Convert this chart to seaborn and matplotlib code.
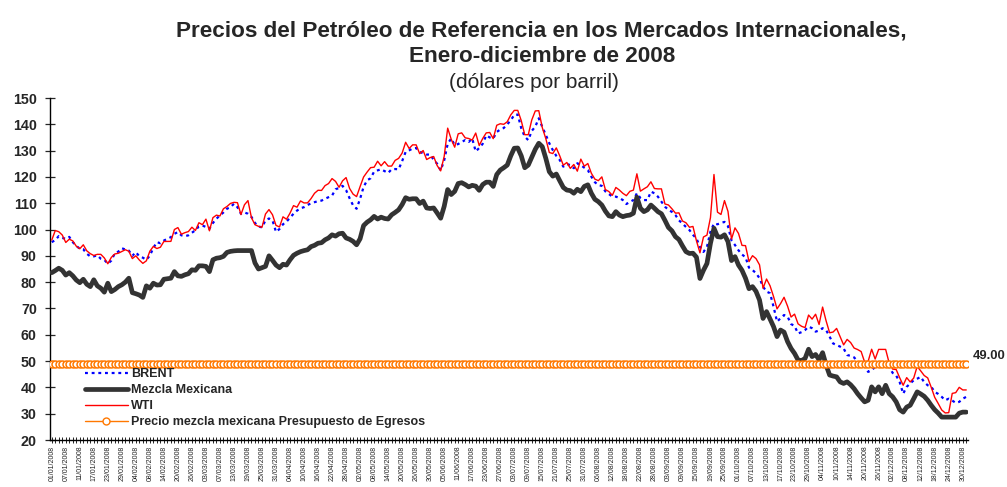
import matplotlib
matplotlib.use("Agg")
import matplotlib.pyplot as plt
import matplotlib.lines as mlines
import numpy as np
import pandas as pd
import seaborn as sns

# Precios diarios 2008 (dias habiles), dolares por barril
wti = [
    95.98, 99.62, 99.18, 97.91, 95.09, 96.33, 95.67, 93.67, 92.69, 94.20, 91.90, 90.84,
    90.13, 90.57, 90.57, 89.21, 86.99, 89.41, 90.71, 90.99, 91.64, 92.33, 91.75,
    88.96, 90.02, 88.41, 87.14, 88.11, 91.77, 93.59, 92.78, 93.27, 95.46, 95.50,
    95.50, 100.01, 100.74, 98.23, 98.81, 99.23, 100.88, 99.64, 102.59, 101.84,
    103.95, 99.52, 104.52, 105.47, 105.15, 107.90, 108.75, 109.92, 110.33, 110.21,
    105.68, 109.42, 111.00, 104.48, 101.84, 101.22, 100.86, 105.90, 107.58, 105.62, 101.58,
    100.98, 104.83, 103.92, 106.23, 109.09, 108.50, 110.87, 110.11, 110.14, 111.76, 113.79,
    114.93, 114.86, 116.69, 117.48, 119.37, 118.30, 116.06, 118.52, 119.75, 115.63, 113.46,
    112.52, 116.32, 119.97, 121.84, 123.53, 123.69, 125.96, 124.23, 125.80, 124.12, 124.12,
    126.29, 127.05, 129.07, 133.17, 130.81, 132.19, 132.19, 128.85, 130.03, 126.62, 127.35,
    127.76, 124.31, 122.30, 127.79, 138.54, 134.35, 131.31, 136.38, 136.74, 134.86, 134.61,
    134.01, 136.68, 131.93, 134.62, 136.74, 136.89, 134.55, 139.64, 140.21, 140.00,
    140.97, 143.57, 145.29, 145.29, 141.37, 136.04, 136.05, 141.65, 145.08, 145.18, 138.74,
    134.60, 129.29, 128.88, 131.04, 127.95, 124.44, 125.49, 123.26, 124.73, 122.19, 126.77, 124.08,
    125.10, 121.41, 119.17, 118.58, 120.02, 115.20, 114.45, 113.01, 116.00, 115.01, 113.77,
    112.87, 114.53, 114.98, 121.18, 114.59, 115.46, 116.27, 118.15, 115.59, 115.46,
    115.46, 109.71, 109.35, 107.89, 106.23, 106.34, 103.26, 102.58, 100.87, 101.18, 95.71,
    91.15, 97.16, 97.88, 104.55, 120.92, 106.61, 105.73, 111.00, 106.89, 96.37, 100.64,
    98.53, 93.97, 93.88, 87.81, 90.06, 88.95, 86.59, 77.70, 81.19, 78.63, 74.54, 69.85,
    71.85, 74.25, 70.89, 66.75, 67.84, 64.15, 63.22, 62.73, 67.50, 65.96, 67.81,
    63.91, 70.53, 65.30, 60.77, 61.04, 62.41, 59.33, 56.16, 58.24, 57.04, 54.95, 54.39,
    53.62, 49.62, 49.93, 54.50, 50.77, 54.44, 54.44, 54.43,
    49.28, 46.96, 46.79, 43.67, 40.81, 43.71, 42.07, 43.52, 47.98, 46.28, 44.51, 43.60,
    40.06, 36.22, 33.87, 31.41, 30.28, 30.40, 37.71, 38.00, 40.02, 39.03, 39.03,
]

brent = [
    95.2, 96.0, 97.5, 96.8, 96.5, 97.2, 95.2, 93.8, 92.7, 92.5, 90.8, 89.8,
    89.8, 90.2, 88.9, 88.5, 87.0, 88.2, 91.0, 91.6, 92.9, 92.4, 92.0,
    90.0, 91.4, 89.8, 89.3, 88.5, 90.1, 93.0, 95.2, 94.8, 95.8, 96.5,
    97.1, 98.4, 99.0, 97.8, 97.5, 97.8, 98.8, 99.7, 101.2, 101.5,
    101.0, 100.3, 102.5, 104.1, 105.4, 106.5, 107.9, 108.5, 109.8, 108.5,
    106.0, 106.5, 106.0, 104.8, 102.5, 101.2, 100.8, 103.5, 104.2, 103.5, 99.1,
    100.2, 102.0, 103.0, 104.5, 106.0, 107.2, 108.1, 108.5, 109.3, 110.0, 110.4,
    110.8, 111.0, 111.7, 112.3, 112.9, 115.3, 115.8, 116.6, 115.0, 111.9, 109.2,
    107.9, 111.7, 116.2, 118.7, 119.5, 122.0, 122.5, 122.9, 122.2, 121.5, 122.9,
    123.0, 122.9, 126.0, 129.5, 130.1, 130.8, 131.0, 129.5, 129.0, 128.5, 128.5,
    126.5, 125.0, 122.5, 126.3, 132.6, 134.6, 132.1, 132.5, 133.3, 134.0, 133.3,
    134.6, 129.7, 131.0, 132.6, 135.8, 135.0, 134.6, 137.1, 138.0, 138.6,
    140.0, 141.5, 143.6, 143.7, 138.5, 135.3, 134.0, 137.5, 139.1, 142.3, 139.0,
    136.0, 132.8, 130.2, 128.0, 126.4, 123.9, 124.9, 124.5, 123.3, 125.2, 124.5, 123.5,
    122.6, 120.1, 118.0, 116.9, 116.6, 114.5, 113.5, 112.5, 112.5, 112.0, 111.2,
    109.7, 110.5, 111.2, 113.8, 112.0, 111.2, 111.2, 114.4, 113.8, 112.5,
    110.6, 108.7, 107.5, 106.7, 105.5, 103.5, 102.3, 101.0, 99.8, 98.0, 96.6,
    93.4, 91.5, 93.4, 99.2, 102.3, 102.0, 102.5, 102.9, 101.3, 95.9, 94.1,
    92.1, 90.5, 89.5, 85.5, 84.6, 83.4, 81.5, 78.3, 76.4, 75.8, 70.7, 65.0,
    66.3, 67.5, 66.9, 64.1, 63.3, 60.5, 61.0, 61.8, 63.1, 62.5, 61.2,
    61.6, 62.5, 61.8, 59.3, 56.7, 56.1, 55.5, 54.8, 52.3, 52.0, 51.4, 49.7,
    48.8, 47.8, 45.9, 46.5, 47.8, 49.7, 49.7, 49.0,
    47.8, 45.5, 44.5, 42.0, 37.6, 40.2, 41.5, 42.7, 43.3, 44.0, 42.0, 40.8,
    40.2, 38.3, 37.5, 36.4, 35.1, 35.7, 35.0, 34.1, 34.5, 35.7, 36.4,
]

mezcla = [
    83.6, 84.4, 85.3, 84.5, 82.7, 83.6, 82.4, 80.8, 79.8, 81.1, 79.2, 78.3,
    80.9, 78.6, 77.7, 76.2, 79.6, 76.4, 77.2, 78.3, 79.0, 80.0, 81.5,
    76.0, 75.6, 75.1, 74.2, 78.6, 77.7, 79.6, 78.9, 79.0, 81.1, 81.3,
    81.5, 84.0, 82.4, 82.2, 82.8, 83.2, 84.7, 84.5, 86.2, 86.2,
    86.0, 84.0, 88.5, 89.1, 89.3, 89.8, 91.3, 91.7, 91.9, 92.0,
    92.0, 92.0, 92.0, 92.0, 87.3, 85.0, 85.5, 86.0, 90.0, 88.3, 86.5,
    85.5, 86.8, 86.5, 88.5, 90.2, 91.0, 91.6, 92.0, 92.3, 93.5, 94.0,
    94.8, 95.0, 96.1, 96.8, 98.0, 97.5, 98.4, 98.6, 96.8, 96.3, 95.5,
    94.2, 96.5, 101.5, 102.8, 103.7, 105.0, 104.0, 104.7, 104.2, 104.0, 105.6,
    106.5, 107.5, 109.5, 112.1, 111.5, 111.7, 111.7, 109.9, 110.8, 108.2, 108.0,
    108.2, 106.3, 104.3, 108.8, 115.2, 113.3, 114.5, 117.5, 117.8, 117.1, 116.2,
    116.8, 116.5, 114.9, 117.1, 118.0, 118.0, 116.4, 120.9, 122.6, 123.5,
    124.5, 128.0, 130.9, 131.0, 128.0, 123.5, 124.5, 127.5, 130.5, 132.8, 131.5,
    127.1, 122.0, 120.3, 121.1, 118.5, 116.0, 115.0, 114.8, 113.8, 115.3, 114.4, 116.4,
    117.0, 113.8, 111.5, 110.6, 109.3, 107.0, 105.2, 104.9, 106.8, 105.5, 104.9,
    105.3, 105.5, 106.2, 112.3, 108.1, 106.8, 107.5, 109.3, 108.1, 106.8,
    106.0, 103.5, 100.8, 99.5, 97.3, 96.2, 93.8, 91.6, 90.9, 91.0, 89.5,
    81.4, 84.5, 87.1, 94.8, 100.5, 97.3, 97.1, 98.0, 95.4, 88.2, 89.7,
    86.5, 84.5, 81.5, 77.5, 78.3, 76.5, 73.2, 66.2, 68.8, 66.0, 63.1, 59.3,
    61.8, 61.0, 57.4, 54.8, 52.9, 50.4, 50.2, 51.0, 54.5, 51.7, 52.5,
    50.5, 53.2, 48.5, 44.7, 44.3, 44.0, 42.1, 41.5, 42.1, 41.0, 39.5, 37.6,
    36.0, 34.5, 35.1, 40.2, 38.3, 40.2, 37.6, 40.8,
    37.6, 36.4, 34.5, 31.5, 30.6, 32.5, 33.2, 35.7, 38.3, 37.5, 36.6, 35.1,
    33.2, 31.5, 30.2, 28.7, 28.7, 28.7, 28.7, 28.7, 30.2, 30.6, 30.6,
]

precio_presupuesto = 49.0

etiquetas = [
    '01/01/2008', '07/01/2008', '11/01/2008', '17/01/2008', '23/01/2008', '29/01/2008',
    '04/02/2008', '08/02/2008', '14/02/2008', '20/02/2008', '26/02/2008', '03/03/2008',
    '07/03/2008', '13/03/2008', '19/03/2008', '25/03/2008', '31/03/2008', '04/04/2008',
    '10/04/2008', '16/04/2008', '22/04/2008', '28/04/2008', '02/05/2008', '08/05/2008',
    '14/05/2008', '20/05/2008', '26/05/2008', '30/05/2008', '05/06/2008', '11/06/2008',
    '17/06/2008', '23/06/2008', '27/06/2008', '03/07/2008', '09/07/2008', '15/07/2008',
    '21/07/2008', '25/07/2008', '31/07/2008', '06/08/2008', '12/08/2008', '18/08/2008',
    '22/08/2008', '28/08/2008', '03/09/2008', '09/09/2008', '15/09/2008', '19/09/2008',
    '25/09/2008', '01/10/2008', '07/10/2008', '13/10/2008', '17/10/2008', '23/10/2008',
    '29/10/2008', '04/11/2008', '10/11/2008', '14/11/2008', '20/11/2008', '26/11/2008',
    '02/12/2008', '08/12/2008', '12/12/2008', '18/12/2008', '24/12/2008', '30/12/2008',
]

# dias habiles de 2008 como eje de categorias
fechas = pd.bdate_range('2008-01-01', '2008-12-31')
df = pd.DataFrame({
    'dia': np.arange(len(fechas)),
    'BRENT': brent,
    'Mezcla Mexicana': mezcla,
    'WTI': wti,
})
df['Presupuesto'] = precio_presupuesto

sns.set_theme(style="ticks")
plt.rcParams['font.family'] = ['Liberation Sans', 'DejaVu Sans']

NARANJA = '#FF7800'

fig = plt.figure(figsize=(10.07, 4.87), dpi=100)
ax = fig.add_axes([50 / 1007, 1 - 440 / 487, 918 / 1007, 342 / 487])

sns.lineplot(data=df, x='dia', y='BRENT', ax=ax, color='#0000FF', linewidth=1.6,
             linestyle=(0, (1.3, 1.7)), zorder=2)
sns.lineplot(data=df, x='dia', y='Mezcla Mexicana', ax=ax, color='#333333',
             linewidth=3.4, zorder=3)
sns.lineplot(data=df, x='dia', y='WTI', ax=ax, color='#FF0000', linewidth=1.0, zorder=4)
sns.lineplot(data=df, x='dia', y='Presupuesto', ax=ax, color=NARANJA, linewidth=1.6,
             marker='o', markersize=5.0, markerfacecolor='white',
             markeredgecolor=NARANJA, markeredgewidth=1.1, zorder=5)

ax.set_xlim(-0.5, len(fechas) - 0.5)
ax.set_ylim(20, 150)
ax.set_yticks(np.arange(20, 151, 10))
ax.set_xlabel('')
ax.set_ylabel('')

# marca en cada dia, etiqueta cada cuatro dias habiles
marcas = np.arange(len(fechas))
textos = [''] * len(fechas)
for k, et in enumerate(etiquetas):
    textos[k * 4] = et
ax.set_xticks(marcas)
ax.set_xticklabels(textos, rotation=90, fontsize=5, color='#222222')
ax.tick_params(axis='x', direction='inout', length=4, width=0.6, pad=2, colors='black',
               labelcolor='#222222')
ax.tick_params(axis='y', direction='inout', length=7, width=0.9, pad=6, labelsize=10.3)
for lab in ax.get_yticklabels():
    lab.set_fontweight('bold')

sns.despine(ax=ax)
for s in ['left', 'bottom']:
    ax.spines[s].set_color('black')
    ax.spines[s].set_linewidth(1.0)

ax.annotate('49.00', xy=(1, precio_presupuesto), xycoords=('axes fraction', 'data'),
            xytext=(3.5, 5.5), textcoords='offset points', ha='left', va='center',
            fontsize=9.4, fontweight='bold')

handles = [
    mlines.Line2D([], [], color='#0000FF', linewidth=1.6, linestyle=(0, (1.3, 1.7))),
    mlines.Line2D([], [], color='#333333', linewidth=3.4),
    mlines.Line2D([], [], color='#FF0000', linewidth=1.0),
    mlines.Line2D([], [], color=NARANJA, linewidth=1.0, marker='o', markersize=5,
                  markerfacecolor='white', markeredgecolor=NARANJA, markeredgewidth=1.0),
]
nombres = ['BRENT', 'Mezcla Mexicana', 'WTI',
           'Precio mezcla mexicana Presupuesto de Egresos']
ax.legend(handles, nombres, loc='upper left', bbox_to_anchor=(85 / 1007, 1 - 368 / 487),
          bbox_transform=fig.transFigure, frameon=False, prop={'size': 9, 'weight': 'bold'},
          handlelength=3.4, handletextpad=0.25, labelspacing=0.32, borderpad=0,
          borderaxespad=0, numpoints=1)

fig.text(0.538, 1 - 36 / 487,
         'Precios del Petróleo de Referencia en los Mercados Internacionales,',
         ha='center', va='baseline', fontsize=16.2, fontweight='bold')
fig.text(0.538, 1 - 62 / 487, 'Enero-diciembre de 2008',
         ha='center', va='baseline', fontsize=16.2, fontweight='bold')
fig.text(0.530, 1 - 88 / 487, '(dólares por barril)',
         ha='center', va='baseline', fontsize=15)

fig.savefig('out.png', dpi=100)
